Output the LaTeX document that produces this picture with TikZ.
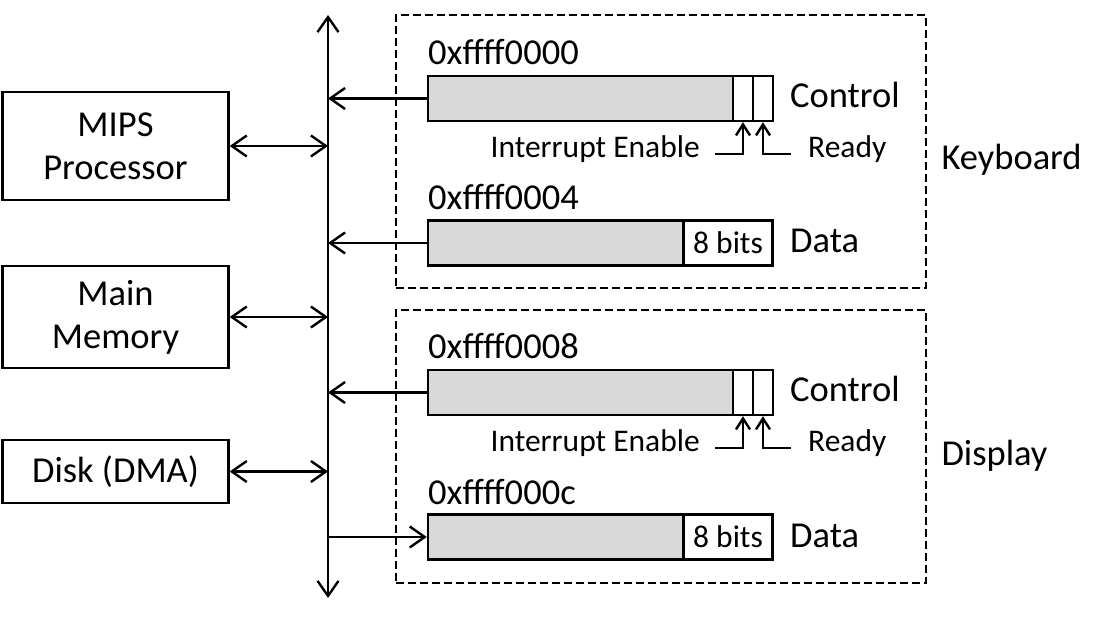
\documentclass[tikz,border=0pt]{standalone}
\usepackage{fontspec}
\setmainfont{Carlito}
\usetikzlibrary{arrows.meta}
\tikzset{
  big/.style={font=\fontsize{36.5}{43}\selectfont},
  small/.style={font=\fontsize{31.5}{36}\selectfont},
  unit/.style={draw, line width=2.4pt, minimum width=226pt, align=center, big, inner sep=0pt},
  regpart/.style={draw, line width=2.4pt, fill=black!15, minimum height=45pt, inner sep=0pt},
  cell/.style={draw, line width=2.4pt, fill=white, minimum height=45pt, inner sep=0pt},
  group/.style={draw, line width=2.2pt, dash pattern=on 8pt off 4pt},
  conn/.style={line width=2.4pt},
  tip/.tip={Straight Barb[length=15pt,width=21pt,line width=2.4pt]},
  stip/.tip={Straight Barb[length=11pt,width=14pt,line width=2.4pt]},
}
\begin{document}
\begin{tikzpicture}[x=1pt,y=-1pt]
\useasboundingbox (0,0) rectangle (1106,617);
% bus
\coordinate (busT) at (328,15);
\coordinate (busB) at (328,598);
\draw[conn, {tip}-{tip}] (busT) -- (busB);
% left units
\node[unit, minimum height=108pt] (cpu) at (115.5,146) {MIPS\\Processor};
\node[unit, minimum height=102pt] (mem) at (115.5,317) {Main\\Memory};
\node[unit, minimum height=63pt] (disk) at (115.5,471.5) {Disk (DMA)};
\draw[conn, {tip}-{tip}] (cpu.east) -- (cpu.east -| busT);
\draw[conn, {tip}-{tip}] (mem.east) -- (mem.east -| busT);
\draw[conn, {tip}-{tip}] (disk.east) -- (disk.east -| busT);
% groups
\node[group, minimum width=530pt, minimum height=273pt, inner sep=0pt] (kbd) at (661,151.5) {};
\node[group, minimum width=530pt, minimum height=273pt, inner sep=0pt] (dsp) at (661,446.5) {};
\node[big, anchor=west] (kbdl) at (938,160) {Keyboard};
\node[big, anchor=west] (dspl) at (938,456) {Display};

% ---- keyboard control
\node[regpart, minimum width=305pt] (kc) at (580.5,98.5) {};
\node[cell, minimum width=20pt] (kcie) at (743,98.5) {};
\node[cell, minimum width=20pt] (kcrd) at (763,98.5) {};
\node[big, anchor=base west, inner sep=0pt] (kca) at (428,65) {0xffff0000};
\node[big, anchor=base west, inner sep=0pt] (kcl) at (790,108) {Control};
\draw[conn, -{tip}] (kc.west) -- (kc.west -| busT);
\coordinate (kieL) at (715,154);
\coordinate (krdR) at (791,154);
\draw[conn, -{stip}] (kieL) -| (kcie.south);
\draw[conn, -{stip}] (krdR) -| (kcrd.south);
\node[small, anchor=base east, inner sep=0pt] (kiel) at (700,158) {Interrupt Enable};
\node[small, anchor=base west, inner sep=0pt] (krdl) at (808,158) {Ready};
% ---- keyboard data
\node[regpart, minimum width=256pt] (kd) at (556,243) {};
\node[cell, minimum width=89pt, small] (kdb) at (728,243) {8 bits};
\node[big, anchor=base west, inner sep=0pt] (kda) at (428,210) {0xffff0004};
\node[big, anchor=base west, inner sep=0pt] (kdl) at (790,253) {Data};
\draw[conn, -{tip}] (kd.west) -- (kd.west -| busT);

% ---- display control
\node[regpart, minimum width=305pt] (dc) at (580.5,392.5) {};
\node[cell, minimum width=20pt] (dcie) at (743,392.5) {};
\node[cell, minimum width=20pt] (dcrd) at (763,392.5) {};
\node[big, anchor=base west, inner sep=0pt] (dca) at (428,359) {0xffff0008};
\node[big, anchor=base west, inner sep=0pt] (dcl) at (790,402) {Control};
\draw[conn, -{tip}] (dc.west) -- (dc.west -| busT);
\coordinate (dieL) at (715,448);
\coordinate (drdR) at (791,448);
\draw[conn, -{stip}] (dieL) -| (dcie.south);
\draw[conn, -{stip}] (drdR) -| (dcrd.south);
\node[small, anchor=base east, inner sep=0pt] (diel) at (700,452) {Interrupt Enable};
\node[small, anchor=base west, inner sep=0pt] (drdl) at (808,452) {Ready};
% ---- display data
\node[regpart, minimum width=256pt] (dd) at (556,537) {};
\node[cell, minimum width=89pt, small] (ddb) at (728,537) {8 bits};
\node[big, anchor=base west, inner sep=0pt] (dda) at (428,504) {0xffff000c};
\node[big, anchor=base west, inner sep=0pt] (ddl) at (790,547) {Data};
\draw[conn, {tip}-] (dd.west) -- (dd.west -| busT);
\end{tikzpicture}
\end{document}
